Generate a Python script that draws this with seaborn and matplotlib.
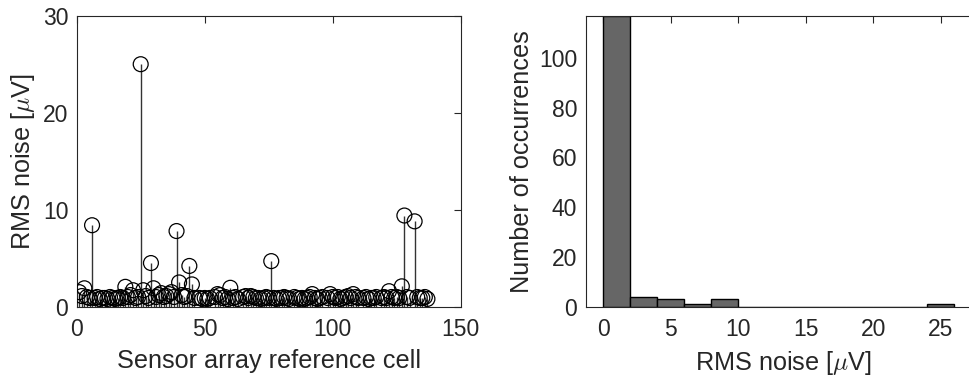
import matplotlib
matplotlib.use('Agg')
import matplotlib.pyplot as plt
import numpy as np
import pandas as pd
import seaborn as sns

# RMS noise per reference cell (uV); None = cell without a reading
cell_noise = [
    1.5, 1.1, 1.9, 1.0, 0.9, 8.4, 0.9, 1.0, 0.8, 0.9,
    0.9, 0.8, 1.0, 0.9, 0.8, 0.9, 1.0, 0.9, 2.05, 1.0,
    1.2, 1.7, 0.9, 1.0, 25.0, 1.7, 1.1, 0.9, 4.5, 1.9,
    1.0, 1.2, 1.4, 1.0, 1.1, 1.3, 1.5, 1.0, 7.8, 2.5,
    1.2, 1.0, 1.1, 4.2, 2.3, 0.9, None, 0.9, 0.8, 0.9,
    0.8, 0.9, None, 1.0, 1.3, 1.2, 0.9, 1.0, 0.8, 1.95,
    0.9, 1.0, 0.8, None, 1.0, 1.1, 0.9, 1.1, 1.0, 0.9,
    0.9, 0.8, 0.9, 1.0, 0.9, 4.7, 0.9, 0.8, 0.9, 0.9,
    1.0, 0.9, 0.8, None, 1.0, 0.9, 0.8, 0.9, 0.8, 0.9,
    1.0, 1.3, 0.9, 0.8, 0.9, 1.0, None, 0.9, 1.3, 1.0,
    0.9, 1.0, 0.8, 0.9, 1.0, 1.1, 0.9, 1.3, 1.0, 0.9,
    None, 0.9, 1.0, 0.8, 0.9, 0.9, 1.0, None, 0.9, 1.0,
    0.9, 1.6, 1.0, 0.9, 1.0, 0.9, 2.1, 9.4, 1.0, 0.9,
    None, 8.8, 1.0, 0.9, 0.9, 1.0, 0.8,
]
cell_index = list(range(1, len(cell_noise) + 1))
hist_edges = [0, 2, 4, 6, 8, 10, 12, 14, 16, 18, 20, 22, 24, 26]

df = pd.DataFrame({'cell': cell_index, 'noise': cell_noise}).dropna()

sns.set_style('white')
plt.rcParams['font.family'] = ['Liberation Sans', 'DejaVu Sans']
plt.rcParams['mathtext.fontset'] = 'cm'

tick_fs  = 16.5
label_fs = 18.2
dark     = '#262626'

fig = plt.figure(figsize=(9.69, 3.85), dpi=100)
ax1 = fig.add_axes([76.7 / 969, 78.3 / 385, 384 / 969, 291 / 385])
ax2 = fig.add_axes([585.7 / 969, 78.3 / 385, 395.6 / 969, 291 / 385])

# left: stem plot
ax1.vlines(df['cell'], 0, df['noise'], color='#333333', linewidth=1.0, zorder=2)
sns.scatterplot(data=df, x='cell', y='noise', ax=ax1, marker='o', s=115,
                facecolor='none', edgecolor='black', linewidth=0.9, zorder=3)
ax1.set_xlim(0, 150)
ax1.set_ylim(0, 30)
ax1.set_xticks([0, 50, 100, 150])
ax1.set_yticks([0, 10, 20, 30])
ax1.set_xlabel('Sensor array reference cell', fontsize=label_fs, color=dark)
ax1.set_ylabel(r'RMS noise [$\mu$V]', fontsize=label_fs, color=dark)

# right: histogram
sns.histplot(data=df, x='noise', bins=hist_edges, ax=ax2, color='#666666',
             edgecolor='black', linewidth=1.0, alpha=1)
counts, _ = np.histogram(df['noise'], bins=hist_edges)
ax2.set_xlim(-1.3, 28)
ax2.set_ylim(0, counts.max())
ax2.set_xticks([0, 5, 10, 15, 20, 25])
ax2.set_yticks([0, 20, 40, 60, 80, 100])
ax2.set_xlabel(r'RMS noise [$\mu$V]', fontsize=label_fs, color=dark)
ax2.set_ylabel('Number of occurrences', fontsize=label_fs, color=dark)

for ax in (ax1, ax2):
    ax.tick_params(direction='in', length=5, width=0.8, top=True, right=True,
                   labelsize=tick_fs, colors=dark)
    ax.tick_params(axis='x', pad=8)
    ax.tick_params(axis='y', pad=6)
    for sp in ax.spines.values():
        sp.set_color('#262626')
        sp.set_linewidth(0.8)
        sp.set_visible(True)
    ax.xaxis.labelpad = 6
    ax.yaxis.labelpad = 4

fig.savefig('out.png', dpi=100)
